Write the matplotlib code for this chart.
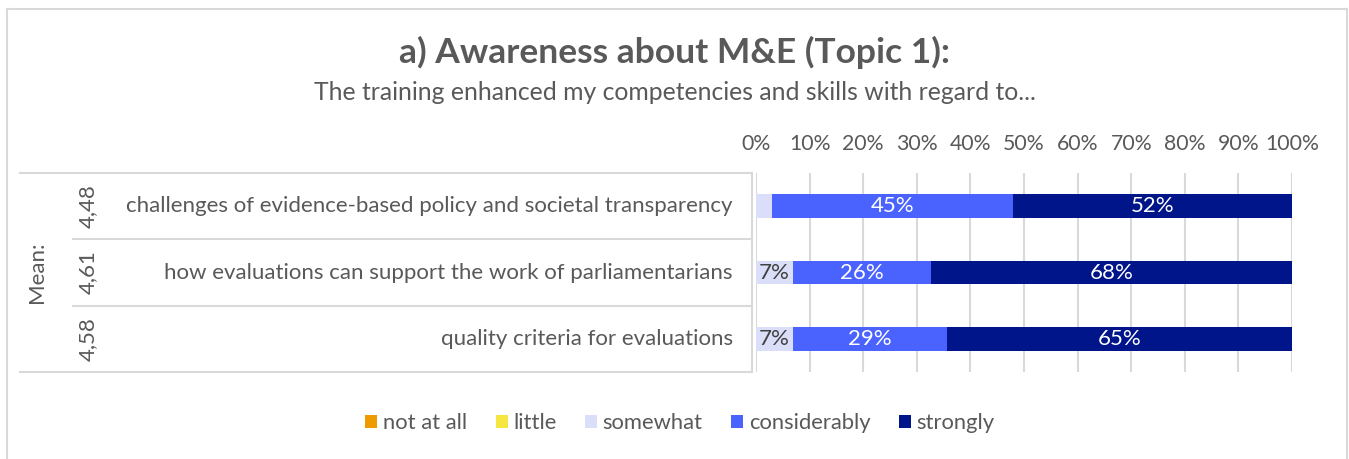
import matplotlib
matplotlib.use('Agg')
from matplotlib import pyplot as plt
from matplotlib.lines import Line2D
from matplotlib.patches import Patch

##### Data #####
statements = ['challenges of evidence-based policy and societal transparency',
              'how evaluations can support the work of parliamentarians',
              'quality criteria for evaluations']
means = ['4,48', '4,61', '4,58']
levels = ['not at all', 'little', 'somewhat', 'considerably', 'strongly']
not_at_all = [0, 0, 0]
little = [0, 0, 0]
somewhat = [3, 7, 7]
considerably = [45, 26, 29]
strongly = [52, 68, 65]
tick_labels = ['0%', '10%', '20%', '30%', '40%', '50%', '60%', '70%', '80%', '90%', '100%']

colors = ['#ED9B00', '#F5E642', '#DADEF8', '#4A63FF', '#00158A']
label_colors = ['#404040', '#404040', '#404040', 'white', 'white']
text_gray = '#595959'
line_gray = '#D9D9D9'

plt.rcParams['font.family'] = ['Lato', 'DejaVu Sans']

W, H = 1349, 459
fig = plt.figure(figsize=(W / 100, H / 100), dpi=100)

def fx(px):
	return px / W

def fy(py):
	return 1 - py / H

# outer chart frame (top, left, right)
fig.add_artist(Line2D([fx(7), fx(1347)], [fy(9), fy(9)], color=line_gray, lw=1.5))
fig.add_artist(Line2D([fx(7), fx(7)], [fy(9), 0], color=line_gray, lw=1.5))
fig.add_artist(Line2D([fx(1347), fx(1347)], [fy(9), 0], color=line_gray, lw=1.5))

fig.text(0.5, fy(52), 'a) Awareness about M&E (Topic 1):', ha='center', va='center',
		 fontsize=25.5, fontweight='bold', color=text_gray)
fig.text(0.5, fy(92), 'The training enhanced my competencies and skills with regard to...',
		 ha='center', va='center', fontsize=17.8, color=text_gray)

ax = fig.add_axes([fx(756), fy(372), fx(1292) - fx(756), fy(173) - fy(372)])

series = [not_at_all, little, somewhat, considerably, strongly]
n = len(statements)
ypos = list(range(n))
for i in range(n):
	total = sum(s[i] for s in series)
	left = 0.0
	for k, s in enumerate(series):
		w = s[i] / total
		if w > 0:
			ax.barh(ypos[i], w, left=left, height=0.36, color=colors[k], zorder=3)
			if s[i] >= 5:
				ax.text(left + w / 2, ypos[i], str(s[i]) + '%', ha='center', va='center',
						fontsize=16, color=label_colors[k], zorder=4)
		left += w

ax.set_xlim(0, 1)
ax.set_ylim(n - 0.5, -0.5)
ax.set_xticks([i / 10 for i in range(11)])
ax.set_xticklabels(tick_labels)
ax.xaxis.tick_top()
ax.tick_params(axis='x', length=0, pad=14, labelsize=15.3, labelcolor=text_gray)
ax.set_yticks([])
ax.grid(axis='x', color=line_gray, lw=1.5, zorder=0)
for sp in ax.spines.values():
	sp.set_visible(False)

# category table on the left
tr = ax.get_yaxis_transform()
x_left = (20 - 756) / 536
x_mean = (73 - 756) / 536
x_right = (752 - 756) / 536
for i in range(n + 1):
	y = i - 0.5
	x0 = x_left if i in (0, n) else x_mean
	ax.add_line(Line2D([x0, x_right], [y, y], transform=tr, color=line_gray, lw=1.5, clip_on=False))
ax.add_line(Line2D([x_right, x_right], [-0.5, n - 0.5], transform=tr, color=line_gray, lw=1.5, clip_on=False))

for i in range(n):
	ax.text((733 - 756) / 536, ypos[i], statements[i], transform=tr, ha='right', va='center',
			fontsize=16, color=text_gray)
	ax.text((88 - 756) / 536, ypos[i], means[i], transform=tr, ha='center', va='center',
			rotation=90, fontsize=16, color=text_gray)
ax.text((37 - 756) / 536, (n - 1) / 2, 'Mean:', transform=tr, ha='center', va='center',
		rotation=90, fontsize=16, color=text_gray)

handles = [Patch(facecolor=c, edgecolor='none') for c in colors]
fig.legend(handles, levels, loc='center', bbox_to_anchor=(fx(680), fy(423)), ncol=5, frameon=False,
		   fontsize=15.8, labelcolor=text_gray, handlelength=0.55, handleheight=0.55,
		   handletextpad=0.25, columnspacing=1.3)

plt.savefig('out.png', dpi=100)
